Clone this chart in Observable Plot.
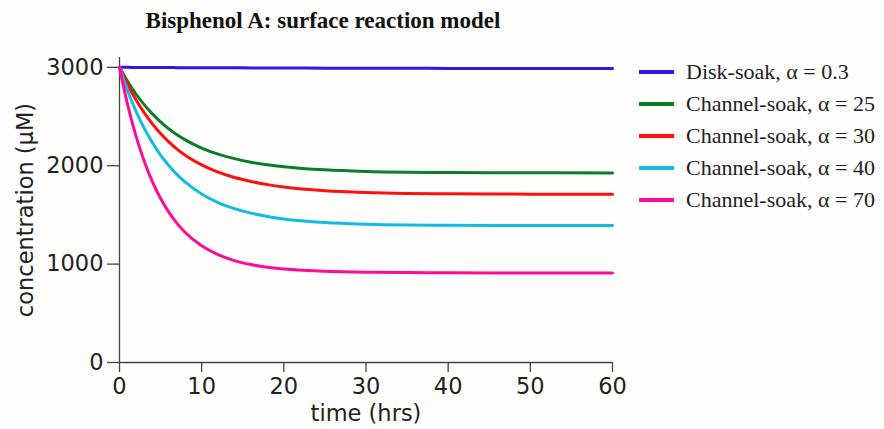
<!DOCTYPE html>
<html>
<head>
<meta charset="utf-8">
<script src="https://cdn.jsdelivr.net/npm/d3@7"></script>
<script src="https://cdn.jsdelivr.net/npm/@observablehq/plot@0.6"></script>
<style>
  html, body { margin: 0; padding: 0; background: #fefefc; }
  #wrap { position: relative; width: 884px; height: 429px; overflow: hidden; }
  #title { position: absolute; left: 0; top: 8px; width: 646px; text-align: center;
           font: bold 23px "Liberation Serif", "Times New Roman", serif; color: #111; }
  #chart { position: absolute; left: 0; top: 0; }
  #legend { position: absolute; left: 639px; top: 56px;
            font: 22px "Liberation Serif", "Times New Roman", serif; color: #222; }
  .row { display: flex; align-items: center; height: 32px; }
  .sw { width: 35px; height: 4px; margin-right: 12px; }
</style>
</head>
<body>
<div id="wrap">
  <div id="chart"></div>
  <div id="title">Bisphenol A: surface reaction model</div>
  <div id="legend"></div>
</div>
<script>
// ---- data ----
const times = [0, 1, 2, 3, 4, 5, 6, 7, 8, 10, 12, 14, 16, 18, 20, 25, 30, 35, 40, 50, 60];
const seriesNames = [
  "Disk-soak, α = 0.3",
  "Channel-soak, α = 25",
  "Channel-soak, α = 30",
  "Channel-soak, α = 40",
  "Channel-soak, α = 70"
];
const diskSoak03   = [3000, 3000, 2999, 2999, 2998, 2998, 2998, 2997, 2997, 2996, 2996, 2995, 2994, 2994, 2993, 2992, 2991, 2990, 2989, 2988, 2987];
const channelSoak25 = [3000, 2855, 2729, 2621, 2527, 2446, 2375, 2315, 2263, 2180, 2118, 2072, 2036, 2010, 1990, 1958, 1942, 1934, 1930, 1928, 1927];
const channelSoak30 = [3000, 2823, 2671, 2539, 2425, 2327, 2243, 2169, 2106, 2008, 1934, 1880, 1840, 1808, 1783, 1745, 1727, 1718, 1714, 1711, 1710];
const channelSoak40 = [3000, 2760, 2556, 2382, 2235, 2108, 2002, 1910, 1833, 1713, 1626, 1564, 1518, 1484, 1459, 1423, 1406, 1398, 1395, 1393, 1392];
const channelSoak70 = [3000, 2617, 2303, 2048, 1838, 1667, 1528, 1414, 1321, 1186, 1096, 1036, 996, 968, 950, 928, 918, 914, 912, 910, 909];
const colors = ["#3a12f2", "#0a7d2a", "#ff1010", "#10bde0", "#ff0a9a"];
const xTicks = [0, 10, 20, 30, 40, 50, 60];
const yTicks = [0, 1000, 2000, 3000];

// ---- build table ----
const allSeries = [diskSoak03, channelSoak25, channelSoak30, channelSoak40, channelSoak70];
const rows = [];
allSeries.forEach((vals, i) => {
  vals.forEach((v, j) => rows.push({ series: seriesNames[i], t: times[j], c: v }));
});

const chart = Plot.plot({
  width: 640,
  height: 429,
  marginLeft: 119,
  marginRight: 28,
  marginTop: 57,
  marginBottom: 67,
  style: { fontFamily: "'DejaVu Sans', sans-serif", fontSize: "22.5px", color: "#222", background: "transparent" },
  x: { domain: [0, 60] },
  y: { domain: [0, 3100] },
  color: { domain: seriesNames, range: colors },
  marks: [
    Plot.axisX({ ticks: xTicks, tickSize: 10, tickPadding: 6, tickFormat: d => String(d),
                 label: "time (hrs)", labelAnchor: "center", labelArrow: "none", labelOffset: 58,
                 stroke: "#444", strokeWidth: 1.3 }),
    Plot.axisY({ ticks: yTicks, tickSize: 12, tickPadding: 4, tickFormat: d => String(d),
                 label: "concentration (µM)", labelAnchor: "center", labelArrow: "none", labelOffset: 102,
                 stroke: "#444", strokeWidth: 1.3 }),
    Plot.ruleX([0], { stroke: "#444", strokeWidth: 1.3 }),
    Plot.ruleY([0], { stroke: "#444", strokeWidth: 1.3 }),
    Plot.line(rows, { x: "t", y: "c", z: "series", stroke: "series", strokeWidth: 3, curve: "monotone-x" })
  ]
});
document.getElementById("chart").appendChild(chart);

// ---- legend ----
const legend = document.getElementById("legend");
seriesNames.forEach((name, i) => {
  const row = document.createElement("div");
  row.className = "row";
  const sw = document.createElement("div");
  sw.className = "sw";
  sw.style.background = colors[i];
  const label = document.createElement("span");
  label.textContent = name;
  row.appendChild(sw);
  row.appendChild(label);
  legend.appendChild(row);
});
</script>
</body>
</html>
